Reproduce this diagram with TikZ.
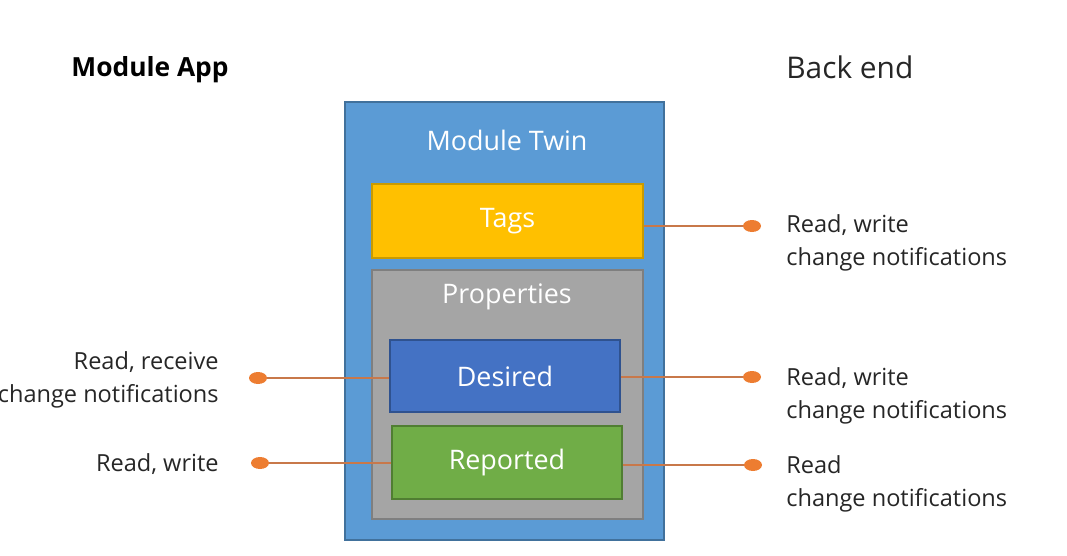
\documentclass[tikz,border=0pt]{standalone}
\usepackage{fontspec}
\setmainfont{Open Sans}
\usetikzlibrary{positioning,shapes.geometric}

\definecolor{twinblue}{HTML}{5B9BD5}
\definecolor{twinblueline}{HTML}{41719C}
\definecolor{tagyellow}{HTML}{FFC000}
\definecolor{tagline}{HTML}{C99A00}
\definecolor{propgray}{HTML}{A5A5A5}
\definecolor{propline}{HTML}{7F7F7F}
\definecolor{desblue}{HTML}{4472C4}
\definecolor{desline}{HTML}{2F528F}
\definecolor{repgreen}{HTML}{70AD47}
\definecolor{repline}{HTML}{507E32}
\definecolor{dotorange}{HTML}{ED7D31}
\definecolor{wireorange}{HTML}{C8784A}
\definecolor{textgray}{HTML}{262626}

\begin{document}
\begin{tikzpicture}[
    box/.style={rectangle, thick, inner sep=0pt, font=\fontsize{15.3}{17}\selectfont, text=white},
    dot/.style={ellipse, fill=dotorange, minimum width=3.6mm, minimum height=2.4mm, inner sep=0pt},
    wire/.style={wireorange, line width=0.9pt},
    label/.style={font=\fontsize{13.4}{18.8}\selectfont, text=textgray, inner sep=0pt}
]

% Frame of the picture
\useasboundingbox (0,0) rectangle (21.34,11.1);

% Headings
\node[font=\fontsize{15}{17}\selectfont\bfseries, text=black] (app) at (3.0, 9.7) {Module App};
\node[font=\fontsize{17}{19}\selectfont, text=textgray, anchor=west, inner sep=0pt] (backend) at (15.72, 9.76) {Back end};

% Module twin and its parts
\node[box, fill=twinblue, draw=twinblueline, minimum width=63.8mm, minimum height=87.6mm] (twin) at (10.09, 4.68) {};
\node[box] (twintitle) at (10.14, 8.3) {Module Twin};

\node[box, fill=tagyellow, draw=tagline, minimum width=54.2mm, minimum height=14.8mm] (tags) at (10.15, 6.68) {Tags};

\node[box, fill=propgray, draw=propline, minimum width=54.2mm, minimum height=49.8mm] (props) at (10.15, 3.21) {};
\node[box] (proptitle) at (10.14, 5.16) {Properties};

\node[box, fill=desblue, draw=desline, minimum width=46mm, minimum height=14.4mm] (desired) at (10.1, 3.58) {Desired};
\node[box, fill=repgreen, draw=repline, minimum width=46mm, minimum height=14.6mm] (reported) at (10.14, 1.85) {Reported};

% End points
\node[dot] (tagsdot) at (15.04, 6.58) {};
\node[dot] (desdotr) at (15.04, 3.56) {};
\node[dot] (repdotr) at (15.06, 1.80) {};
\node[dot] (desdotl) at (5.16, 3.54) {};
\node[dot] (repdotl) at (5.20, 1.84) {};

% Connections
\draw[wire] (tagsdot -| tags.east) -- (tagsdot);
\draw[wire] (desdotr -| desired.east) -- (desdotr);
\draw[wire] (repdotr -| reported.east) -- (repdotr);
\draw[wire] (desdotl -| desired.west) -- (desdotl);
\draw[wire] (repdotl -| reported.west) -- (repdotl);

% Back end access
\node[label, anchor=west, align=left] (tagstext) at (15.72, 6.24) {Read, write\\change notifications};
\node[label, anchor=west, align=left] (destextr) at (15.72, 3.18) {Read, write\\change notifications};
\node[label, anchor=west, align=left] (reptextr) at (15.72, 1.42) {Read\\change notifications};

% Module app access
\node[label, anchor=east, align=right] (destextl) at (4.38, 3.5) {Read, receive\\change notifications};
\node[label, anchor=east, align=right] (reptextl) at (4.38, 1.82) {Read, write};

\end{tikzpicture}
\end{document}
